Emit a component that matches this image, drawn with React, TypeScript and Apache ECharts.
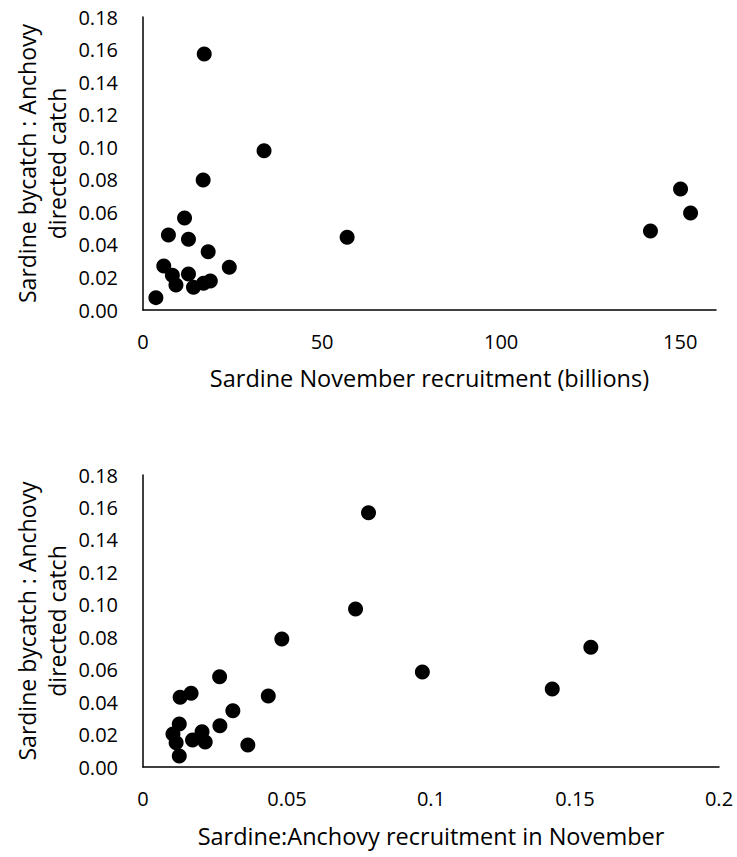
import React, { useEffect, useRef } from "react";
import * as echarts from "echarts";

// Top panel: Sardine November recruitment (billions) vs bycatch ratio
const topRecruitment = [17.1, 33.8, 16.8, 11.6, 7.1, 12.7, 18.2, 57.0, 5.8, 24.1, 8.2, 12.7, 9.2, 14.1, 16.9, 18.8, 3.6, 150.1, 152.9, 141.7];
const topBycatch = [0.1572, 0.0979, 0.0799, 0.0565, 0.0461, 0.0434, 0.0358, 0.0447, 0.027, 0.0262, 0.0213, 0.0221, 0.0154, 0.0139, 0.0164, 0.0178, 0.0076, 0.0743, 0.0596, 0.0485];

// Bottom panel: Sardine:Anchovy recruitment ratio vs bycatch ratio
const bottomRatio = [0.0783, 0.0738, 0.0482, 0.097, 0.0266, 0.0167, 0.0129, 0.0435, 0.0312, 0.0126, 0.0267, 0.0104, 0.0205, 0.0172, 0.0216, 0.0115, 0.0364, 0.0126, 0.1555, 0.1421];
const bottomBycatch = [0.1568, 0.0974, 0.0789, 0.0586, 0.0557, 0.0454, 0.043, 0.0438, 0.0347, 0.0265, 0.0255, 0.0203, 0.0218, 0.0166, 0.0154, 0.015, 0.0136, 0.0068, 0.0738, 0.0481];

const yTicks = { min: 0, max: 0.18, interval: 0.02 };
const topXTicks = { min: 0, max: 160, interval: 50 };
const bottomXTicks = { min: 0, max: 0.2, interval: 0.05 };

const yName = "Sardine bycatch : Anchovy\ndirected catch";
const topXName = "Sardine November recruitment (billions)";
const bottomXName = "Sardine:Anchovy recruitment in November";

const FONT = "Open Sans";

export default function App() {
  const ref = useRef<HTMLDivElement>(null);
  useEffect(() => {
    if (!ref.current) return;
    const chart = echarts.init(ref.current, null, { renderer: "svg" });
    const axisLine = { show: true, lineStyle: { color: "#000", width: 1.5 } };
    const tickLabel = { color: "#000", fontFamily: FONT, fontSize: 20 };
    const nameStyle = { color: "#000", fontFamily: FONT, fontSize: 23.5 };
    const mkY = (gi: number) => ({
      type: "value",
      gridIndex: gi,
      min: yTicks.min,
      max: yTicks.max,
      interval: yTicks.interval,
      axisLine,
      axisTick: { show: false },
      splitLine: { show: false },
      axisLabel: { ...tickLabel, margin: 25, formatter: (v: number) => v.toFixed(2) },
    });
    const yNameText = (cy: number) => ({
      type: "text",
      x: 42,
      y: cy,
      rotation: Math.PI / 2,
      style: {
        text: yName,
        fill: "#000",
        fontFamily: FONT,
        fontSize: 23,
        lineHeight: 30,
        align: "center",
        verticalAlign: "middle",
      },
    });
    chart.setOption({
      animation: false,
      backgroundColor: "#fff",
      grid: [
        { left: 143, right: 21, top: 17, height: 293 },
        { left: 143, right: 18, top: 475, height: 292 },
      ],
      xAxis: [
        {
          type: "value",
          gridIndex: 0,
          min: topXTicks.min,
          max: topXTicks.max,
          interval: topXTicks.interval,
          axisLine,
          axisTick: { show: false },
          splitLine: { show: false },
          axisLabel: {
            ...tickLabel,
            margin: 21,
            formatter: (v: number) => (v % topXTicks.interval === 0 ? String(v) : ""),
          },
          name: topXName,
          nameLocation: "middle",
          nameGap: 56,
          nameTextStyle: nameStyle,
        },
        {
          type: "value",
          gridIndex: 1,
          min: bottomXTicks.min,
          max: bottomXTicks.max,
          interval: bottomXTicks.interval,
          axisLine,
          axisTick: { show: false },
          splitLine: { show: false },
          axisLabel: { ...tickLabel, margin: 21 },
          name: bottomXName,
          nameLocation: "middle",
          nameGap: 57,
          nameTextStyle: nameStyle,
        },
      ],
      yAxis: [mkY(0), mkY(1)],
      graphic: [yNameText(163.5), yNameText(621)],
      series: [
        {
          type: "scatter",
          xAxisIndex: 0,
          yAxisIndex: 0,
          symbolSize: 15,
          itemStyle: { color: "#000", opacity: 1 },
          data: topRecruitment.map((x, i) => [x, topBycatch[i]]),
        },
        {
          type: "scatter",
          xAxisIndex: 1,
          yAxisIndex: 1,
          symbolSize: 15,
          itemStyle: { color: "#000", opacity: 1 },
          data: bottomRatio.map((x, i) => [x, bottomBycatch[i]]),
        },
      ],
    });
    return () => chart.dispose();
  }, []);
  return (
    <div
      ref={ref}
      style={{ position: "absolute", left: 0, top: 0, width: 737, height: 857, background: "#fff" }}
    />
  );
}
